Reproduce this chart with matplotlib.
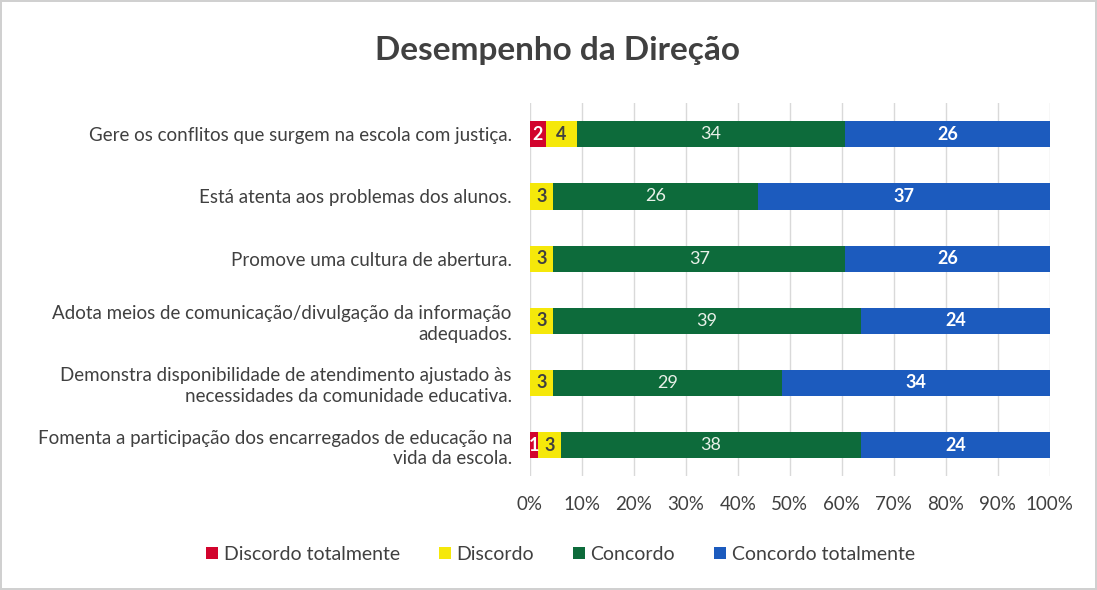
import matplotlib
matplotlib.use('Agg')
import matplotlib.pyplot as plt
import numpy as np

plt.rcParams['font.family'] = ['Lato', 'DejaVu Sans']

# data (top to bottom as in the picture)
categories = [
    'Gere os conflitos que surgem na escola com justiça.',
    'Está atenta aos problemas dos alunos.',
    'Promove uma cultura de abertura.',
    'Adota meios de comunicação/divulgação da informação\nadequados.',
    'Demonstra disponibilidade de atendimento ajustado às\nnecessidades da comunidade educativa.',
    'Fomenta a participação dos encarregados de educação na\nvida da escola.',
]
series_names = ['Discordo totalmente', 'Discordo', 'Concordo', 'Concordo totalmente']
discordo_tot = [2, 0, 0, 0, 0, 1]
discordo = [4, 3, 3, 3, 3, 3]
concordo = [34, 26, 37, 39, 29, 38]
concordo_tot = [26, 37, 26, 24, 34, 24]

colors = ['#D2042D', '#F5E80A', '#0D6B3B', '#1C5BBE']
label_colors = ['white', '#404040', '#E8F0E8', 'white']
label_weights = ['bold', 'bold', 'normal', 'bold']

fig = plt.figure(figsize=(10.97, 5.9), dpi=100)
fig.patch.set_edgecolor('#D0D0D0')
fig.patch.set_linewidth(1.5)
ax = fig.add_axes([0.483, 0.193, 0.474, 0.632])

data = np.array([discordo_tot, discordo, concordo, concordo_tot], dtype=float)
totals = data.sum(axis=0)
pct = data / totals

y = np.arange(len(categories))
left = np.zeros(len(categories))
for i, name in enumerate(series_names):
    ax.barh(y, pct[i], left=left, height=0.42, color=colors[i], label=name, zorder=2)
    for j in range(len(categories)):
        v = data[i, j]
        if v > 0:
            ax.text(left[j] + pct[i, j] / 2, y[j], f'{int(v)}', ha='center', va='center',
                    color=label_colors[i], fontsize=13, fontweight=label_weights[i], zorder=3)
    left += pct[i]

ax.set_xlim(0, 1)
ax.set_ylim(len(categories) - 0.5, -0.5)
ax.set_yticks(y)
ax.set_yticklabels(categories, fontsize=13.5, color='#404040', linespacing=1.25)
ax.set_xticks(np.linspace(0, 1, 11))
ax.set_xticklabels([f'{int(t)}%' for t in range(0, 101, 10)], fontsize=13.5, color='#404040')
ax.tick_params(axis='x', length=0, pad=14)
ax.tick_params(axis='y', length=0, pad=13)
ax.grid(axis='x', color='#D9D9D9', linewidth=1, zorder=0)
for s in ax.spines.values():
    s.set_visible(False)

fig.text(0.508, 0.915, 'Desempenho da Direção', ha='center', va='center',
         fontsize=24, fontweight='bold', color='#404040')

ax.legend(loc='center', bbox_to_anchor=(0.511, 0.06), bbox_transform=fig.transFigure,
          ncol=4, frameon=False, fontsize=14, handlelength=0.6, handleheight=0.6,
          handletextpad=0.3, columnspacing=2.0, labelcolor='#404040')

fig.savefig('out.png', dpi=100)
